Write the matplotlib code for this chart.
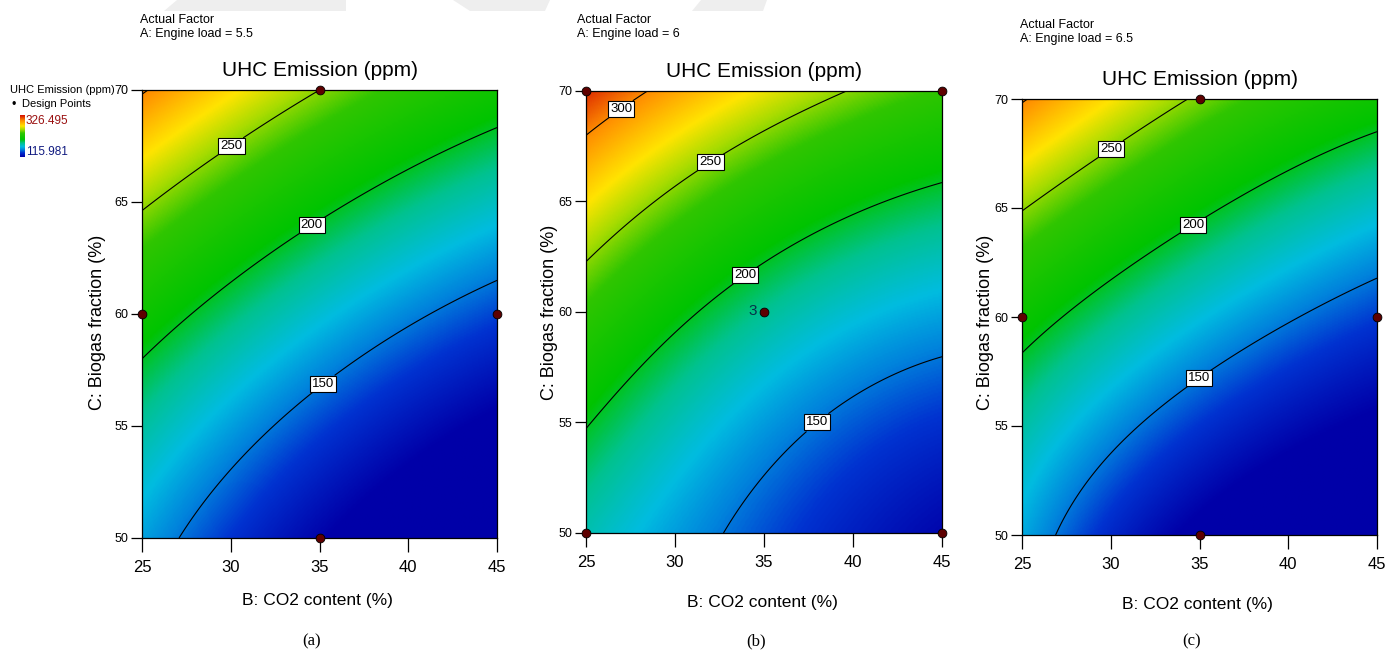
import numpy as np
import matplotlib
matplotlib.use('Agg')
import matplotlib.pyplot as plt
from matplotlib.colors import LinearSegmentedColormap
from matplotlib.patches import Polygon

# response values (ppm) read at the 3x3 design grid, rows C = 50, 60, 70; cols B = 25, 35, 45
co2_levels = [25, 35, 45]
biogas_levels = [50, 60, 70]
uhc_a = [[160, 118, 91], [213.5, 170, 140.5], [302, 250, 214]]
uhc_b = [[178, 143, 119], [233, 185, 161], [320, 268, 234]]
uhc_c = [[162, 112, 95], [211, 168, 139], [302, 247, 213]]
engine_loads = ['5.5', '6', '6.5']
panel_tags = ['(a)', '(b)', '(c)']

# design points shown on each panel (B, C)
pts_a_b = [35, 25, 45, 35]
pts_a_c = [70, 60, 60, 50]
pts_b_b = [25, 45, 35, 25, 45]
pts_b_c = [70, 70, 60, 50, 50]
pts_c_b = [35, 25, 45, 35]
pts_c_c = [70, 60, 60, 50]

contour_levels = [150, 200, 250, 300]
scale_min, scale_max = 115.981, 326.495

narrow = ['Liberation Sans Narrow', 'Liberation Sans', 'DejaVu Sans']
plt.rcParams['font.family'] = ['Liberation Sans', 'DejaVu Sans']

cmap = LinearSegmentedColormap.from_list('dx', [
    (0.0, '#0000a8'), (0.1, '#0032d0'), (0.17, '#0082dc'), (0.24, '#00bce0'),
    (0.33, '#00c290'), (0.42, '#00c400'), (0.57, '#30c600'), (0.66, '#a8dc00'),
    (0.74, '#ffe400'), (0.87, '#ff9000'), (1.0, '#d41000')])


def quad_surface(grid, b, c):
    # quadratic response surface through the 3x3 design grid
    g = np.array(grid, dtype=float)
    t = (b - 35) / 10.0
    u = (c - 60) / 10.0
    Lt = np.stack([t * (t - 1) / 2, 1 - t ** 2, t * (t + 1) / 2])
    Lu = np.stack([u * (u - 1) / 2, 1 - u ** 2, u * (u + 1) / 2])
    return np.einsum('iy,ij,jx->yx', Lu, g, Lt)


b_fine = np.linspace(25, 45, 300)
c_fine = np.linspace(50, 70, 300)
BB, CC = np.meshgrid(b_fine, c_fine)

W, H = 1391.0, 650.0
fig = plt.figure(figsize=(13.91, 6.5), dpi=100)

# faint watermark pieces along the top edge
for poly in [[(177, 0), (346, 0), (346, 11), (164, 11)],
             [(453, 0), (550, 0), (545, 11), (470, 11)],
             [(701, 0), (767, 0), (763, 11), (692, 11)]]:
    fig.patches.append(Polygon([(x / W, 1 - y / H) for x, y in poly], closed=True,
                               transform=fig.transFigure, fc='#eeeeee', ec='none'))

axes_pos = [[142, 90, 355, 448], [586, 91, 356, 442], [1022, 99, 355, 436]]
note_pos = [[140, 14], [577, 14], [1020, 19]]
ylab_pos = [[98, 322], [549, 312], [985, 322]]
xlab_y = [600, 602, 604]
label_pos = [
    [(29.8, 67.8), (34.2, 64.4), (35.0, 57.1)],
    [(26.8, 69.4), (31.9, 66.9), (34.0, 61.6), (38.0, 55.0)],
    [(29.8, 68.0), (34.3, 64.7), (34.7, 57.5)],
]

grids = [uhc_a, uhc_b, uhc_c]
pts = [(pts_a_b, pts_a_c), (pts_b_b, pts_b_c), (pts_c_b, pts_c_c)]

for k in range(3):
    x0, y0, w, h = axes_pos[k]
    ax = fig.add_axes([x0 / W, 1 - (y0 + h) / H, w / W, h / H])
    Z = quad_surface(grids[k], b_fine, c_fine)
    ax.imshow(Z, extent=[25, 45, 50, 70], origin='lower', aspect='auto',
              cmap=cmap, vmin=scale_min, vmax=scale_max, interpolation='bilinear')
    lv = [l for l in contour_levels if Z.min() < l < Z.max()]
    cs = ax.contour(BB, CC, Z, levels=lv, colors='black', linewidths=0.8)
    labels = ax.clabel(cs, fmt='%d', manual=label_pos[k], inline=True, inline_spacing=3,
                       fontsize=9.5)
    for t in labels:
        t.set_rotation(0)
        t.set_fontfamily(narrow)
        t.set_bbox(dict(boxstyle='square,pad=0.15', fc='white', ec='black', lw=0.8))

    pb, pc = pts[k]
    ax.scatter(pb, pc, s=40, c='#5e0000', edgecolors='black', linewidths=0.6,
               zorder=5, clip_on=False)
    if k == 1:
        ax.text(34.6, 60.05, '3', ha='right', va='center', fontsize=11,
                color='#06324a', family=narrow)

    ax.set_xlim(25, 45)
    ax.set_ylim(50, 70)
    ax.set_xticks([25, 30, 35, 40, 45])
    ax.set_yticks([50, 55, 60, 65, 70])
    ax.tick_params(axis='x', length=10, width=0.9, labelsize=12, pad=6)
    ax.tick_params(axis='y', length=8, width=0.9, labelsize=9, pad=2)
    for lab in ax.get_xticklabels() + ax.get_yticklabels():
        lab.set_fontfamily(narrow)
    for s in ax.spines.values():
        s.set_linewidth(0.9)
    ax.set_title('UHC Emission (ppm)', fontsize=15, pad=10)

    fig.text((x0 + w / 2 - 2) / W, 1 - xlab_y[k] / H, 'B: CO2 content (%)',
             ha='center', va='center', fontsize=12.5, family=narrow)
    yx, yy = ylab_pos[k]
    fig.text(yx / W, 1 - yy / H, 'C: Biogas fraction (%)', ha='center', va='center',
             rotation=90, fontsize=13, family=narrow)

    nx, ny = note_pos[k]
    fig.text(nx / W, 1 - ny / H, 'Actual Factor\nA: Engine load = ' + engine_loads[k],
             ha='left', va='top', fontsize=9, family=narrow, linespacing=1.25)
    fig.text((x0 + w / 2 - 8) / W, 1 - 641 / H, panel_tags[k], ha='center', va='center',
             fontsize=12, family=['Liberation Serif', 'DejaVu Serif'])

# legend block at the far left
fig.text(10 / W, 1 - 90 / H, 'UHC Emission (ppm)', ha='left', va='center',
         fontsize=8, family=narrow)
fig.text(22 / W, 1 - 104 / H, 'Design Points', ha='left', va='center',
         fontsize=8, family=narrow)
fig.text(12 / W, 1 - 105 / H, '\u2022', ha='left', va='center', fontsize=9)
cax = fig.add_axes([20 / W, 1 - 157 / H, 5 / W, 42 / H])
cax.imshow(np.linspace(0, 1, 100)[:, None], aspect='auto', origin='lower', cmap=cmap)
cax.set_xticks([])
cax.set_yticks([])
for s in cax.spines.values():
    s.set_visible(False)
fig.text(26 / W, 1 - 121 / H, '%.3f' % scale_max, ha='left', va='center',
         fontsize=8.5, family=narrow, color='#9a1010')
fig.text(26 / W, 1 - 152 / H, '%.3f' % scale_min, ha='left', va='center',
         fontsize=8.5, family=narrow, color='#101a80')

fig.savefig('out.png', dpi=100)
